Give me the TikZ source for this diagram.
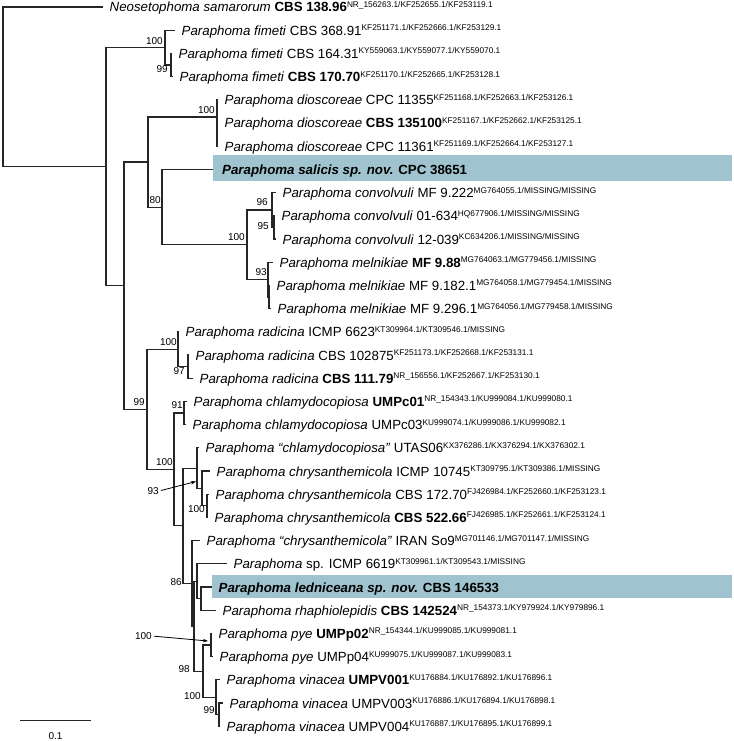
\documentclass[tikz,border=0pt]{standalone}
\usepackage{fontspec}
\setmainfont{Liberation Sans}
\usetikzlibrary{arrows.meta}
\definecolor{boxblue}{RGB}{160,196,207}
\newcommand{\acc}[1]{\raisebox{4.5pt}{\fontsize{8.3}{9}\selectfont #1}}
\tikzset{
  branch/.style={line width=1.1pt,draw=black!85},
  taxon/.style={anchor=base west,inner sep=0pt,xshift=6.5pt,yshift=-5pt,font=\fontsize{13.3}{15}\selectfont},
  boot/.style={anchor=east,inner sep=0pt,font=\fontsize{10}{12}\selectfont},
  pointer/.style={-{Stealth[length=5pt,width=3.5pt]},line width=0.8pt,shorten <=2pt},
  hilite/.style={fill=boxblue,draw=none},
}
\begin{document}
\begin{tikzpicture}[x=1pt,y=-1pt]
\useasboundingbox (0,0) rectangle (733,741);
% highlighted new species
\fill[hilite] (213,155) rectangle (732,181);
\fill[hilite] (212,575) rectangle (732,598);
% tips
\coordinate (t1) at (103,7);
\coordinate (t2) at (175,30.2);
\coordinate (t3) at (172,53.4);
\coordinate (t4) at (173,76.6);
\coordinate (t5) at (218,99.8);
\coordinate (t6) at (218,123);
\coordinate (t7) at (218,146.2);
\coordinate (t8) at (213,169.4);
\coordinate (t9) at (276,192.6);
\coordinate (t10) at (275,215.8);
\coordinate (t11) at (276,239);
\coordinate (t12) at (273,262.2);
\coordinate (t13) at (270,285.4);
\coordinate (t14) at (271,308.6);
\coordinate (t15) at (179,331.8);
\coordinate (t16) at (189,355);
\coordinate (t17) at (193,378.2);
\coordinate (t18) at (187,401.4);
\coordinate (t19) at (186,424.6);
\coordinate (t20) at (199,447.8);
\coordinate (t21) at (210,471);
\coordinate (t22) at (209,494.2);
\coordinate (t23) at (208,517.4);
\coordinate (t24) at (200,540.6);
\coordinate (t25) at (227,563.8);
\coordinate (t26) at (212,587);
\coordinate (t27) at (216,610.2);
\coordinate (t28) at (212,633.4);
\coordinate (t29) at (213,656.6);
\coordinate (t30) at (220,679.8);
\coordinate (t31) at (223,703);
\coordinate (t32) at (220,726.2);
% internal nodes
\coordinate (root) at (3,86.8);
\coordinate (ingrp) at (106,166.6);
\coordinate (fimA) at (165,47.6);
\coordinate (fimB) at (171,65);
\coordinate (core) at (124,285.7);
\coordinate (upper) at (148,162);
\coordinate (dio) at (217,117);
\coordinate (salic) at (162,207.1);
\coordinate (conmel) at (247,244.8);
\coordinate (conv) at (272,210);
\coordinate (convsub) at (274,227.4);
\coordinate (meln) at (268,279.6);
\coordinate (melnsub) at (269,297);
\coordinate (lower) at (147,409.3);
\coordinate (rad) at (178,349.2);
\coordinate (radsub) at (188,366.6);
\coordinate (chlrest) at (174,469.4);
\coordinate (chla) at (184,413);
\coordinate (chrrest) at (183,525.8);
\coordinate (chry) at (197,468.1);
\coordinate (chrysub) at (202,488.4);
\coordinate (chrysubb) at (207,505.8);
\coordinate (mix) at (192,583.4);
\coordinate (mixsub) at (194,626.2);
\coordinate (ledgrp) at (197,581.2);
\coordinate (ledsub) at (201,598.6);
\coordinate (pyevin) at (203,671.1);
\coordinate (pye) at (211,645);
\coordinate (vin) at (216,697.2);
\coordinate (vinsub) at (219,714.6);
% branches
\draw[branch] (root) |- (t1) (root) |- (ingrp);
\draw[branch] (ingrp) |- (fimA) (ingrp) |- (core);
\draw[branch] (fimA) |- (t2) (fimA) |- (fimB);
\draw[branch] (fimB) |- (t3) (fimB) |- (t4);
\draw[branch] (core) |- (upper) (core) |- (lower);
\draw[branch] (upper) |- (dio) (upper) |- (salic);
\draw[branch] (dio) |- (t5) (dio) |- (t6) (dio) |- (t7);
\draw[branch] (salic) |- (t8) (salic) |- (conmel);
\draw[branch] (conmel) |- (conv) (conmel) |- (meln);
\draw[branch] (conv) |- (t9) (conv) |- (convsub);
\draw[branch] (convsub) |- (t10) (convsub) |- (t11);
\draw[branch] (meln) |- (t12) (meln) |- (melnsub);
\draw[branch] (melnsub) |- (t13) (melnsub) |- (t14);
\draw[branch] (lower) |- (rad) (lower) |- (chlrest);
\draw[branch] (rad) |- (t15) (rad) |- (radsub);
\draw[branch] (radsub) |- (t16) (radsub) |- (t17);
\draw[branch] (chlrest) |- (chla) (chlrest) |- (chrrest);
\draw[branch] (chla) |- (t18) (chla) |- (t19);
\draw[branch] (chrrest) |- (chry) (chrrest) |- (mix);
\draw[branch] (chry) |- (t20) (chry) |- (chrysub);
\draw[branch] (chrysub) |- (t21) (chrysub) |- (chrysubb);
\draw[branch] (chrysubb) |- (t22) (chrysubb) |- (t23);
\draw[branch] (mix) |- (t24) (mix) |- (mixsub);
\draw[branch] (mixsub) |- (ledgrp) (mixsub) |- (pyevin);
\draw[branch] (ledgrp) |- (t25) (ledgrp) |- (ledsub);
\draw[branch] (ledsub) |- (t26) (ledsub) |- (t27);
\draw[branch] (pyevin) |- (pye) (pyevin) |- (vin);
\draw[branch] (pye) |- (t28) (pye) |- (t29);
\draw[branch] (vin) |- (t30) (vin) |- (vinsub);
\draw[branch] (vinsub) |- (t31) (vinsub) |- (t32);
% taxon names
\node[taxon] (n1) at (t1) {\textit{Neosetophoma samarorum} \textbf{CBS 138.96}\acc{NR\_156263.1/KF252655.1/KF253119.1}};
\node[taxon] (n2) at (t2) {\textit{Paraphoma fimeti} CBS 368.91\acc{KF251171.1/KF252666.1/KF253129.1}};
\node[taxon] (n3) at (t3) {\textit{Paraphoma fimeti} CBS 164.31\acc{KY559063.1/KY559077.1/KY559070.1}};
\node[taxon] (n4) at (t4) {\textit{Paraphoma fimeti} \textbf{CBS 170.70}\acc{KF251170.1/KF252665.1/KF253128.1}};
\node[taxon] (n5) at (t5) {\textit{Paraphoma dioscoreae} CPC 11355\acc{KF251168.1/KF252663.1/KF253126.1}};
\node[taxon] (n6) at (t6) {\textit{Paraphoma dioscoreae} \textbf{CBS 135100}\acc{KF251167.1/KF252662.1/KF253125.1}};
\node[taxon] (n7) at (t7) {\textit{Paraphoma dioscoreae} CPC 11361\acc{KF251169.1/KF252664.1/KF253127.1}};
\node[taxon,xshift=2.5pt] (n8) at (t8) {\textbf{\textit{Paraphoma salicis sp. nov.} CPC 38651}};
\node[taxon] (n9) at (t9) {\textit{Paraphoma convolvuli} MF 9.222\acc{MG764055.1/MISSING/MISSING}};
\node[taxon] (n10) at (t10) {\textit{Paraphoma convolvuli} 01-634\acc{HQ677906.1/MISSING/MISSING}};
\node[taxon] (n11) at (t11) {\textit{Paraphoma convolvuli} 12-039\acc{KC634206.1/MISSING/MISSING}};
\node[taxon] (n12) at (t12) {\textit{Paraphoma melnikiae} \textbf{MF 9.88}\acc{MG764063.1/MG779456.1/MISSING}};
\node[taxon] (n13) at (t13) {\textit{Paraphoma melnikiae} MF 9.182.1\acc{MG764058.1/MG779454.1/MISSING}};
\node[taxon] (n14) at (t14) {\textit{Paraphoma melnikiae} MF 9.296.1\acc{MG764056.1/MG779458.1/MISSING}};
\node[taxon] (n15) at (t15) {\textit{Paraphoma radicina} ICMP 6623\acc{KT309964.1/KT309546.1/MISSING}};
\node[taxon] (n16) at (t16) {\textit{Paraphoma radicina} CBS 102875\acc{KF251173.1/KF252668.1/KF253131.1}};
\node[taxon] (n17) at (t17) {\textit{Paraphoma radicina} \textbf{CBS 111.79}\acc{NR\_156556.1/KF252667.1/KF253130.1}};
\node[taxon] (n18) at (t18) {\textit{Paraphoma chlamydocopiosa} \textbf{UMPc01}\acc{NR\_154343.1/KU999084.1/KU999080.1}};
\node[taxon] (n19) at (t19) {\textit{Paraphoma chlamydocopiosa} UMPc03\acc{KU999074.1/KU999086.1/KU999082.1}};
\node[taxon] (n20) at (t20) {\textit{Paraphoma “chlamydocopiosa”} UTAS06\acc{KX376286.1/KX376294.1/KX376302.1}};
\node[taxon] (n21) at (t21) {\textit{Paraphoma chrysanthemicola} ICMP 10745\acc{KT309795.1/KT309386.1/MISSING}};
\node[taxon] (n22) at (t22) {\textit{Paraphoma chrysanthemicola} CBS 172.70\acc{FJ426984.1/KF252660.1/KF253123.1}};
\node[taxon] (n23) at (t23) {\textit{Paraphoma chrysanthemicola} \textbf{CBS 522.66}\acc{FJ426985.1/KF252661.1/KF253124.1}};
\node[taxon] (n24) at (t24) {\textit{Paraphoma “chrysanthemicola”} IRAN So9\acc{MG701146.1/MG701147.1/MISSING}};
\node[taxon] (n25) at (t25) {\textit{Paraphoma} sp. ICMP 6619\acc{KT309961.1/KT309543.1/MISSING}};
\node[taxon] (n26) at (t26) {\textbf{\textit{Paraphoma ledniceana sp. nov.} CBS 146533}};
\node[taxon] (n27) at (t27) {\textit{Paraphoma rhaphiolepidis} \textbf{CBS 142524}\acc{NR\_154373.1/KY979924.1/KY979896.1}};
\node[taxon] (n28) at (t28) {\textit{Paraphoma pye} \textbf{UMPp02}\acc{NR\_154344.1/KU999085.1/KU999081.1}};
\node[taxon] (n29) at (t29) {\textit{Paraphoma pye} UMPp04\acc{KU999075.1/KU999087.1/KU999083.1}};
\node[taxon] (n30) at (t30) {\textit{Paraphoma vinacea} \textbf{UMPV001}\acc{KU176884.1/KU176892.1/KU176896.1}};
\node[taxon] (n31) at (t31) {\textit{Paraphoma vinacea} UMPV003\acc{KU176886.1/KU176894.1/KU176898.1}};
\node[taxon] (n32) at (t32) {\textit{Paraphoma vinacea} UMPV004\acc{KU176887.1/KU176895.1/KU176899.1}};
% bootstrap support
\node[boot] (bsfimA) at (163,40.7) {100};
\node[boot] (bsfimB) at (168,69) {99};
\node[boot] (bsdio) at (215,110) {100};
\node[boot] (bssalic) at (161,200) {80};
\node[boot] (bsconmel) at (245,237) {100};
\node[boot] (bsconv) at (268,202) {96};
\node[boot] (bsconvsub) at (269,226) {95};
\node[boot] (bsmeln) at (267,272) {93};
\node[boot] (bsrad) at (177,342) {100};
\node[boot] (bsradsub) at (185,371) {97};
\node[boot] (bslower) at (145,402) {99};
\node[boot] (bschla) at (183,405) {91};
\node[boot] (bschlrest) at (173,462) {100};
\node[boot] (bschrysub) at (159,491) {93};
\node[boot] (bschrysubb) at (205,509) {100};
\node[boot] (bsmix) at (182,582) {86};
\node[boot] (bspye) at (152,636) {100};
\node[boot] (bspyevin) at (190,669) {98};
\node[boot] (bsvin) at (201,696) {100};
\node[boot] (bsvinsub) at (215,710) {99};
\coordinate (chrysubarr) at (196,481.5);
\coordinate (pyearr) at (208,641);
\draw[pointer] (bschrysub.east) -- (chrysubarr);
\draw[pointer] (bspye.east) -- (pyearr);
% scale bar
\coordinate (sbl) at (20,720);
\coordinate (sbr) at (91,720);
\draw[branch,line width=1pt] (sbl) -- (sbr);
\node[boot,anchor=center] (sblab) at (55.5,736) {0.1};
\end{tikzpicture}
\end{document}
